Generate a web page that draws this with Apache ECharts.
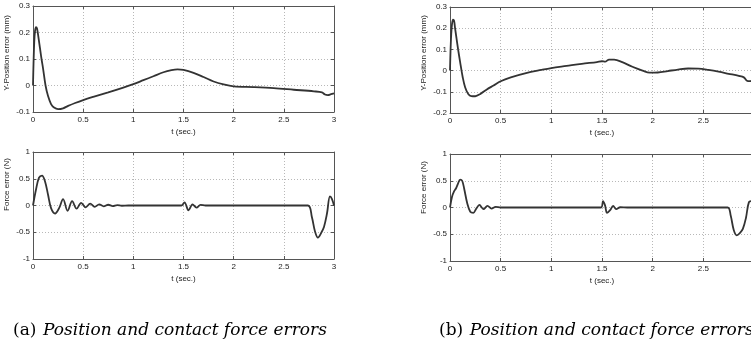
<!DOCTYPE html>
<html>
<head>
<meta charset="utf-8">
<script src="https://cdn.jsdelivr.net/npm/echarts@6/dist/echarts.min.js"></script>
<style>
  html, body { margin: 0; background: #fff; }
  #chart { width: 751px; height: 347px; }
</style>
</head>
<body>
<div id="chart"></div>
<script>
// tick labels
const timeTicks = [0, 0.5, 1, 1.5, 2, 2.5, 3]
const posTicksA = [-0.1, 0, 0.1, 0.2, 0.3]
const posTicksB = [-0.2, -0.1, 0, 0.1, 0.2, 0.3]
const forceTicks = [-1, -0.5, 0, 0.5, 1]

// (a) Y-position error (mm)
const tPosA = [0, 0.005, 0.012, 0.02, 0.03, 0.04, 0.055, 0.07, 0.085, 0.1, 0.125, 0.15, 0.18, 0.21, 0.25, 0.3, 0.35, 0.42, 0.5, 0.6, 0.75, 0.9, 1.0, 1.1, 1.2, 1.3, 1.38, 1.44, 1.5, 1.6, 1.7, 1.8, 1.9, 2.0, 2.2, 2.4, 2.6, 2.8, 2.88, 2.91, 2.94, 2.97, 3.0]
const posA = [0, 0.08, 0.16, 0.205, 0.22, 0.215, 0.18, 0.14, 0.1, 0.065, 0.0, -0.04, -0.07, -0.083, -0.089, -0.086, -0.077, -0.066, -0.055, -0.043, -0.026, -0.008, 0.005, 0.02, 0.035, 0.05, 0.058, 0.061, 0.059, 0.048, 0.032, 0.015, 0.004, -0.003, -0.006, -0.01, -0.016, -0.022, -0.026, -0.034, -0.036, -0.033, -0.03]

// (a) force error (N)
const tForceA = [0, 0.03, 0.06, 0.09, 0.12, 0.15, 0.18, 0.22, 0.26, 0.30, 0.345, 0.39, 0.435, 0.48, 0.525, 0.57, 0.615, 0.66, 0.705, 0.75, 0.795, 0.84, 0.885, 0.95, 1.2, 1.48, 1.51, 1.55, 1.59, 1.63, 1.67, 1.72, 2.0, 2.5, 2.74, 2.78, 2.81, 2.84, 2.87, 2.9, 2.93, 2.96, 2.98, 3.0]
const forceA = [0, 0.3, 0.52, 0.56, 0.45, 0.2, -0.05, -0.15, -0.05, 0.12, -0.1, 0.08, -0.06, 0.05, -0.035, 0.035, -0.025, 0.022, -0.015, 0.014, -0.01, 0.008, -0.005, 0, 0, 0, 0.06, -0.09, 0.02, -0.04, 0.01, 0, 0, 0, 0, -0.22, -0.48, -0.6, -0.52, -0.4, -0.15, 0.17, 0.12, 0]

// (b) Y-position error (mm)
const tPosB = [0, 0.005, 0.012, 0.02, 0.03, 0.04, 0.05, 0.065, 0.08, 0.1, 0.125, 0.15, 0.18, 0.21, 0.25, 0.3, 0.36, 0.43, 0.5, 0.6, 0.75, 0.9, 1.0, 1.15, 1.3, 1.45, 1.5, 1.53, 1.57, 1.62, 1.7, 1.8, 1.9, 1.97, 2.05, 2.15, 2.25, 2.35, 2.45, 2.55, 2.65, 2.75, 2.85, 2.9, 2.93, 2.96, 3.0]
const posB = [0, 0.09, 0.17, 0.22, 0.24, 0.235, 0.2, 0.15, 0.1, 0.04, -0.03, -0.08, -0.11, -0.12, -0.121, -0.11, -0.09, -0.07, -0.05, -0.032, -0.012, 0.003, 0.012, 0.022, 0.032, 0.04, 0.044, 0.042, 0.052, 0.052, 0.04, 0.018, 0.0, -0.01, -0.009, -0.002, 0.005, 0.01, 0.009, 0.003, -0.005, -0.015, -0.025, -0.032, -0.048, -0.05, -0.042]

// (b) force error (N)
const tForceB = [0, 0.02, 0.04, 0.06, 0.08, 0.1, 0.12, 0.14, 0.17, 0.2, 0.23, 0.26, 0.29, 0.33, 0.37, 0.41, 0.45, 0.5, 0.6, 1.0, 1.49, 1.51, 1.53, 1.55, 1.58, 1.61, 1.64, 1.68, 1.75, 2.0, 2.5, 2.74, 2.77, 2.8, 2.83, 2.86, 2.89, 2.92, 2.95, 2.98, 3.0]
const forceB = [0, 0.2, 0.3, 0.36, 0.45, 0.52, 0.5, 0.35, 0.08, -0.08, -0.1, -0.02, 0.05, -0.03, 0.03, -0.02, 0.01, 0, 0, 0, 0, 0.12, 0.04, -0.1, -0.05, 0.03, -0.03, 0.005, 0, 0, 0, 0, -0.15, -0.42, -0.52, -0.48, -0.4, -0.2, 0.1, 0.12, 0.05]

const captionLetters = ['(a)', '(b)']
const captionText = 'Position and contact force errors'

const pairs = (t, v) => t.map((x, i) => [x, v[i]])

const panels = [
  { grid: { left: 33, top: 6, width: 301, height: 106 }, yTicks: posTicksA, yName: 'Y-Position error (mm)', shift: 12, data: pairs(tPosA, posA) },
  { grid: { left: 33, top: 152, width: 301, height: 107 }, yTicks: forceTicks, yName: 'Force error (N)', shift: 42, data: pairs(tForceA, forceA) },
  { grid: { left: 450, top: 7, width: 304, height: 106 }, yTicks: posTicksB, yName: 'Y-Position error (mm)', shift: 14, data: pairs(tPosB, posB) },
  { grid: { left: 450, top: 154, width: 304, height: 107 }, yTicks: forceTicks, yName: 'Force error (N)', shift: 40, data: pairs(tForceB, forceB) }
]

const lineColor = '#555'
const labelStyle = { fontFamily: 'Liberation Sans', fontSize: 8, color: '#222' }
const gridLine = { show: true, lineStyle: { color: '#b8b8b8', type: [1, 2], width: 1 } }

const xAxes = [], yAxes = [], series = []
panels.forEach((p, i) => {
  const step = p.yTicks[1] - p.yTicks[0]
  xAxes.push({
    type: 'value', gridIndex: i, position: 'bottom',
    min: timeTicks[0], max: timeTicks[timeTicks.length - 1], interval: 0.5,
    name: 't (sec.)', nameLocation: 'middle', nameGap: 16,
    nameTextStyle: labelStyle,
    axisLine: { onZero: false, lineStyle: { color: lineColor } },
    axisTick: { inside: true, length: 3, lineStyle: { color: lineColor } },
    axisLabel: Object.assign({ margin: 4 }, labelStyle),
    splitLine: gridLine
  })
  xAxes.push({
    type: 'value', gridIndex: i, position: 'top',
    min: timeTicks[0], max: timeTicks[timeTicks.length - 1], interval: 0.5,
    axisLine: { onZero: false, lineStyle: { color: lineColor } },
    axisTick: { inside: true, length: 3, lineStyle: { color: lineColor } },
    axisLabel: { show: false }, splitLine: { show: false }
  })
  yAxes.push({
    type: 'value', gridIndex: i, position: 'left',
    min: p.yTicks[0], max: p.yTicks[p.yTicks.length - 1], interval: step,
    name: p.yName, nameLocation: 'middle', nameGap: 22,
    nameTextStyle: Object.assign({ padding: [0, 0, 0, p.shift] }, labelStyle),
    axisLine: { onZero: false, lineStyle: { color: lineColor } },
    axisTick: { inside: true, length: 3, lineStyle: { color: lineColor } },
    axisLabel: Object.assign({ margin: 3 }, labelStyle),
    splitLine: gridLine
  })
  yAxes.push({
    type: 'value', gridIndex: i, position: 'right',
    min: p.yTicks[0], max: p.yTicks[p.yTicks.length - 1], interval: step,
    axisLine: { onZero: false, lineStyle: { color: lineColor } },
    axisTick: { inside: true, length: 3, lineStyle: { color: lineColor } },
    axisLabel: { show: false }, splitLine: { show: false }
  })
  series.push({
    type: 'line', xAxisIndex: 2 * i, yAxisIndex: 2 * i,
    data: p.data, smooth: 0.35, symbol: 'none',
    lineStyle: { color: '#333', width: 1.8 }
  })
})

const myChart = echarts.init(document.getElementById('chart'))
myChart.setOption({
  animation: false,
  backgroundColor: '#fff',
  grid: panels.map(p => Object.assign({ outerBoundsMode: 'none', containLabel: false }, p.grid)),
  xAxis: xAxes,
  yAxis: yAxes,
  series: series,
  graphic: captionLetters.map((letter, i) => ({
    type: 'text',
    left: i === 0 ? 13 : 439,
    top: 322,
    style: {
      text: '{up|' + letter + '}  {it|' + captionText + '}',
      rich: {
        up: { fontFamily: 'DejaVu Serif', fontSize: 17, fill: '#000' },
        it: { fontFamily: 'DejaVu Serif', fontStyle: 'italic', fontSize: 17, fill: '#000' }
      }
    }
  }))
})
</script>
</body>
</html>
